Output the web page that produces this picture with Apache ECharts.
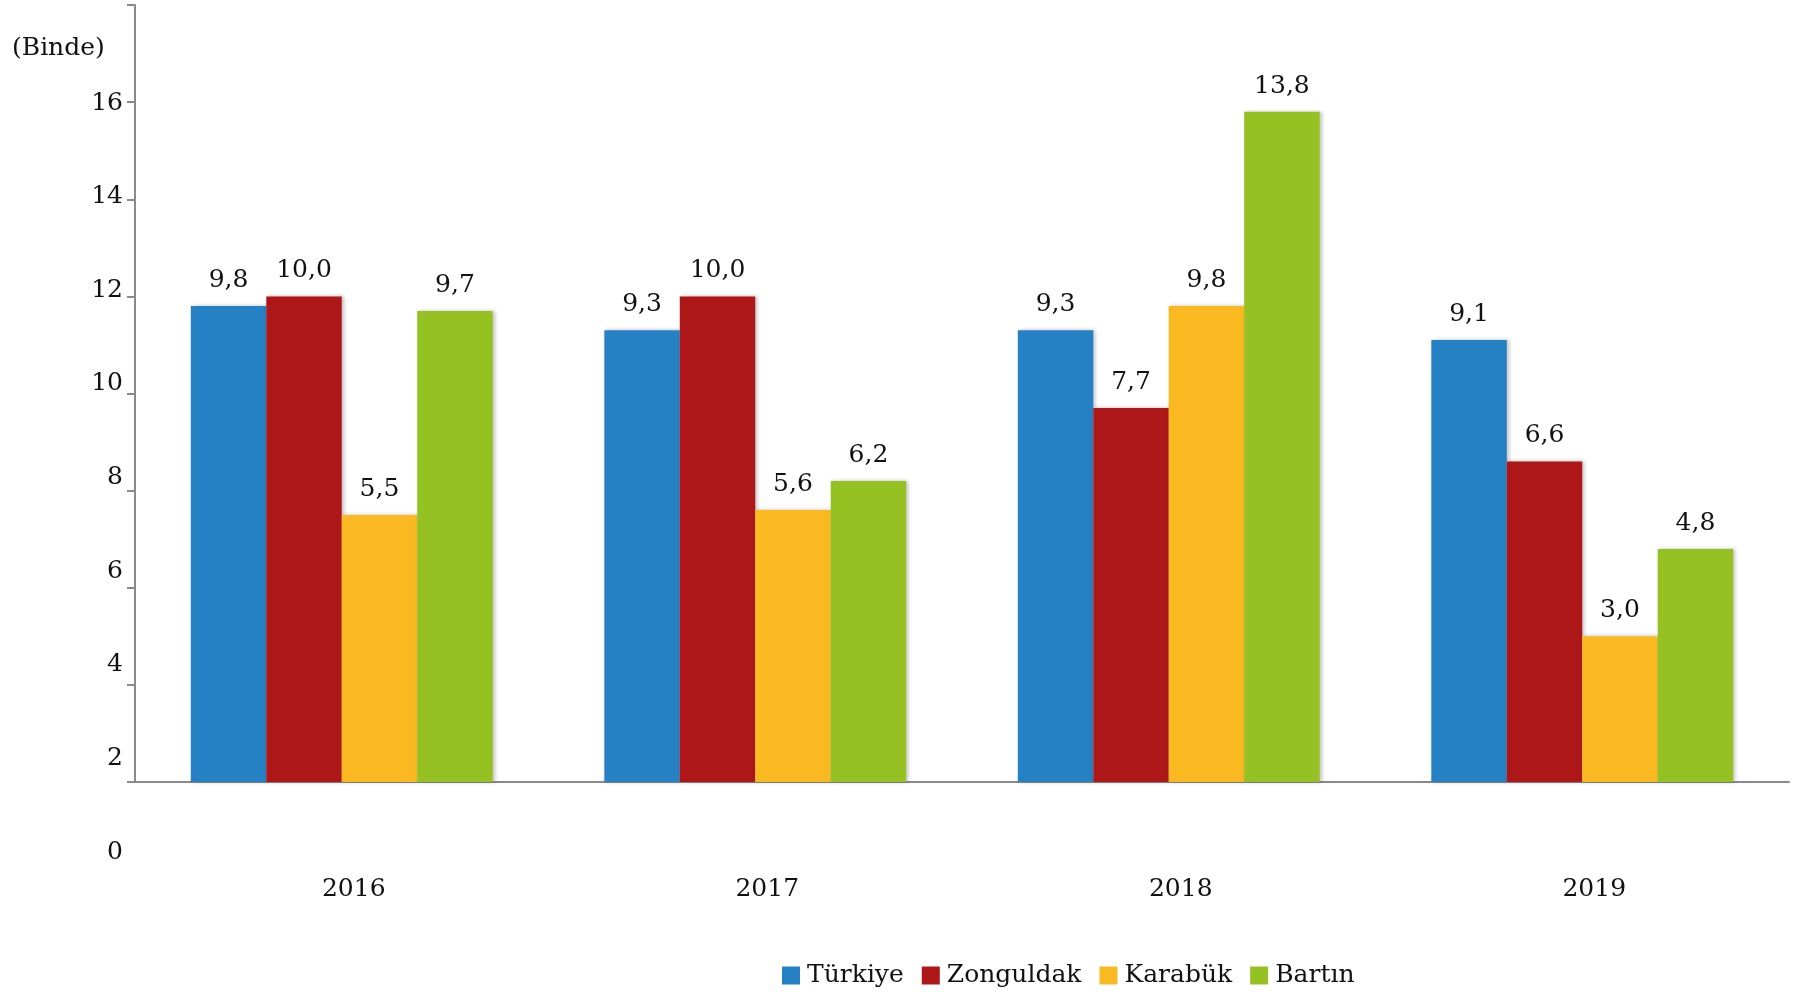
<!DOCTYPE html>
<html>
<head>
<meta charset="utf-8">
<title>Binde</title>
<script src="https://cdn.jsdelivr.net/npm/echarts@6/dist/echarts.min.js"></script>
<style>
  html, body { margin: 0; padding: 0; background: #fff; }
  #chart { width: 1802px; height: 992px; }
</style>
</head>
<body>
<div id="chart"></div>
<script>
  // yıllar ve iller
  var years = ['2016', '2017', '2018', '2019'];
  var turkiye = [9.8, 9.3, 9.3, 9.1];
  var zonguldak = [10.0, 10.0, 7.7, 6.6];
  var karabuk = [5.5, 5.6, 9.8, 3.0];
  var bartin = [9.7, 6.2, 13.8, 4.8];
  // sol eksende görünen etiketler
  var yTickLabels = ['0', '2', '4', '6', '8', '10', '12', '14', '16'];

  var font = 'DejaVu Serif';
  var colors = ['#2581c4', '#ae1717', '#fbb921', '#96c122'];

  function bar(name, data, color) {
    return {
      name: name,
      type: 'bar',
      data: data,
      barGap: '0%',
      barCategoryGap: '27%',
      itemStyle: {
        color: color,
        shadowColor: 'rgba(0,0,0,0.25)',
        shadowBlur: 4,
        shadowOffsetX: 2
      },
      label: {
        show: true,
        position: 'top',
        distance: 13,
        color: '#111',
        fontFamily: font,
        fontSize: 25,
        formatter: function (p) { return p.value.toFixed(1).replace('.', ','); }
      }
    };
  }

  var myChart = echarts.init(document.getElementById('chart'));
  myChart.setOption({
    animation: false,
    legend: {
      left: 777,
      top: 958,
      itemWidth: 18,
      itemHeight: 18,
      itemGap: 18,
      icon: 'rect',
      textStyle: { fontFamily: font, fontSize: 25, color: '#111', padding: [0, 0, 0, 2] },
      data: ['Türkiye', 'Zonguldak', 'Karabük', 'Bartın']
    },
    graphic: [{
      type: 'text',
      left: 12,
      top: 36,
      style: { text: '(Binde)', font: '25px "DejaVu Serif"', fill: '#111' }
    }],
    grid: [
      { left: 135, right: 13, top: 5, bottom: 210 },
      { left: 135, right: 13, top: 103, bottom: 140 }
    ],
    xAxis: [{
      type: 'category',
      gridIndex: 0,
      data: years,
      axisLine: { lineStyle: { color: '#8a8a8a', width: 2 } },
      axisTick: { length: 9, lineStyle: { color: '#8a8a8a', width: 2 } },
      axisLabel: {
        margin: 95,
        padding: [0, 0, 0, 24],
        color: '#111',
        fontFamily: font,
        fontSize: 25
      }
    }, {
      type: 'category',
      gridIndex: 1,
      data: years,
      show: false
    }],
    yAxis: [{
      type: 'value',
      gridIndex: 0,
      min: 0,
      max: 16,
      interval: 2,
      splitLine: { show: false },
      axisLine: { show: true, lineStyle: { color: '#8a8a8a', width: 2 } },
      axisTick: { show: true, length: 8, lineStyle: { color: '#8a8a8a', width: 2 } },
      axisLabel: { show: false }
    }, {
      type: 'value',
      gridIndex: 1,
      min: 0,
      max: 16,
      interval: 2,
      splitLine: { show: false },
      axisLine: { show: false },
      axisTick: { show: false },
      axisLabel: {
        margin: 12,
        color: '#111',
        fontFamily: font,
        fontSize: 25,
        formatter: function (v) { return yTickLabels[v / 2]; }
      }
    }],
    series: [
      bar('Türkiye', turkiye, colors[0]),
      bar('Zonguldak', zonguldak, colors[1]),
      bar('Karabük', karabuk, colors[2]),
      bar('Bartın', bartin, colors[3])
    ]
  });
</script>
</body>
</html>
